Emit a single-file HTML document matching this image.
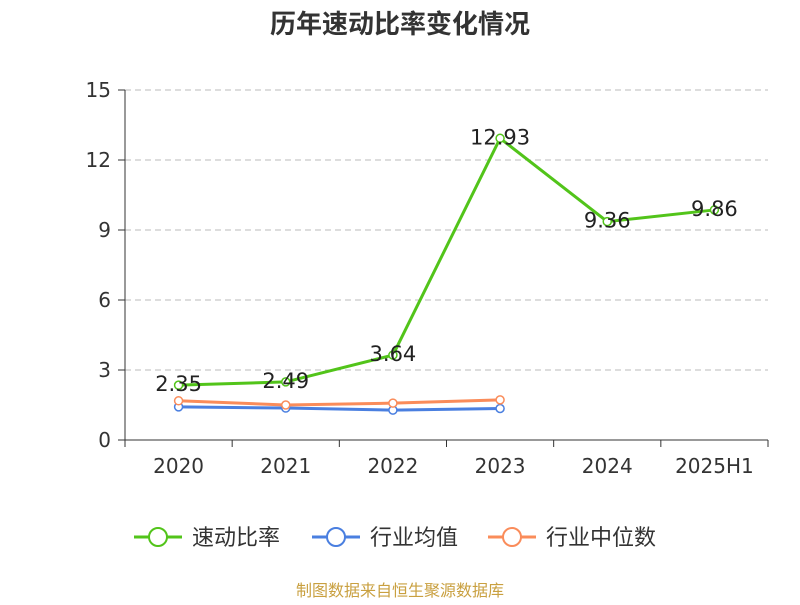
<!DOCTYPE html>
<html><head><meta charset="utf-8"><style>
body{margin:0;background:#fff;font-family:"Liberation Sans","Noto Sans CJK SC",sans-serif}
</style></head><body>
<svg width="800" height="600" xmlns="http://www.w3.org/2000/svg" font-family="DejaVu Sans, Liberation Sans, Noto Sans CJK SC, sans-serif">
<text x="400" y="33" text-anchor="middle" font-size="26" font-weight="bold" fill="#333">历年速动比率变化情况</text>
<g id="grid"></g><g id="axes"></g><g id="series"></g>
<g>
<g><line x1="134" y1="537" x2="182" y2="537" stroke="#52c41a" stroke-width="3"/><circle cx="158" cy="537" r="9" fill="#fff" stroke="#52c41a" stroke-width="2"/><text x="192" y="545" font-size="22" fill="#333">速动比率</text></g>
<g><line x1="312" y1="537" x2="360" y2="537" stroke="#4a7fe0" stroke-width="3"/><circle cx="336" cy="537" r="9" fill="#fff" stroke="#4a7fe0" stroke-width="2"/><text x="370" y="545" font-size="22" fill="#333">行业均值</text></g>
<g><line x1="488" y1="537" x2="536" y2="537" stroke="#fa8c5a" stroke-width="3"/><circle cx="512" cy="537" r="9" fill="#fff" stroke="#fa8c5a" stroke-width="2"/><text x="546" y="545" font-size="22" fill="#333">行业中位数</text></g>
</g>
<text x="400" y="596" text-anchor="middle" font-size="16" fill="#c9a040">制图数据来自恒生聚源数据库</text>
</svg>
<script>
const categories=["2020","2021","2022","2023","2024","2025H1"];
const quickRatio=[2.35,2.49,3.64,12.93,9.36,9.86];
const industryAvg=[1.42,1.37,1.28,1.35];
const industryMedian=[1.68,1.50,1.58,1.72];
const yTicks=[0,3,6,9,12,15];
const NS="http://www.w3.org/2000/svg";
const L=125,R=768,T=90,B=440,yMax=15;
const bw=(R-L)/categories.length;
const x=i=>L+bw*(i+0.5);
const y=v=>B-(v/yMax)*(B-T);
function mk(tag,attrs,parent,text){const e=document.createElementNS(NS,tag);for(const k in attrs)e.setAttribute(k,attrs[k]);if(text!=null)e.textContent=text;parent.appendChild(e);return e;}
const grid=document.getElementById('grid'),axes=document.getElementById('axes'),ser=document.getElementById('series');
yTicks.forEach(t=>{
 if(t>0){const g=mk('line',{x1:L,x2:R,y1:y(t),y2:y(t),stroke:'#bbb','stroke-dasharray':'6,4'},grid);
 
 }
 mk('line',{x1:L-7,x2:L,y1:y(t),y2:y(t),stroke:'#333'},axes);
 const lb=mk('text',{x:L-14,y:y(t)+7,'text-anchor':'end','font-size':20,fill:'#333'},axes,String(t));
 
 
});
mk('line',{x1:L,x2:L,y1:T,y2:B,stroke:'#333'},axes);
mk('line',{x1:L,x2:R,y1:B,y2:B,stroke:'#333'},axes);
for(let i=0;i<=categories.length;i++)mk('line',{x1:L+bw*i,x2:L+bw*i,y1:B,y2:B+7,stroke:'#333'},axes);
categories.forEach((c,i)=>{const t=mk('text',{x:x(i),y:B+33,'text-anchor':'middle','font-size':20,fill:'#333'},axes,c);
 
 });
function line(vals,color,name,labels){
 const g=mk('g',{},ser);
 
 
 mk('polyline',{points:vals.map((v,i)=>x(i)+','+y(v)).join(' '),fill:'none',stroke:color,'stroke-width':3},g);
 vals.forEach((v,i)=>{const c=mk('circle',{cx:x(i),cy:y(v),r:4,fill:'#fff',stroke:color,'stroke-width':1.5},g);
  
  
  if(labels){const t=mk('text',{x:x(i),y:y(v)+6,'text-anchor':'middle','font-size':21,fill:'#222'},g,v.toFixed(2));
   
   }});
}
line(industryAvg,'#4a7fe0','industry-avg-series',false);
line(industryMedian,'#fa8c5a','industry-median-series',false);
line(quickRatio,'#52c41a','quick-ratio-series',true);
</script>
</body></html>
